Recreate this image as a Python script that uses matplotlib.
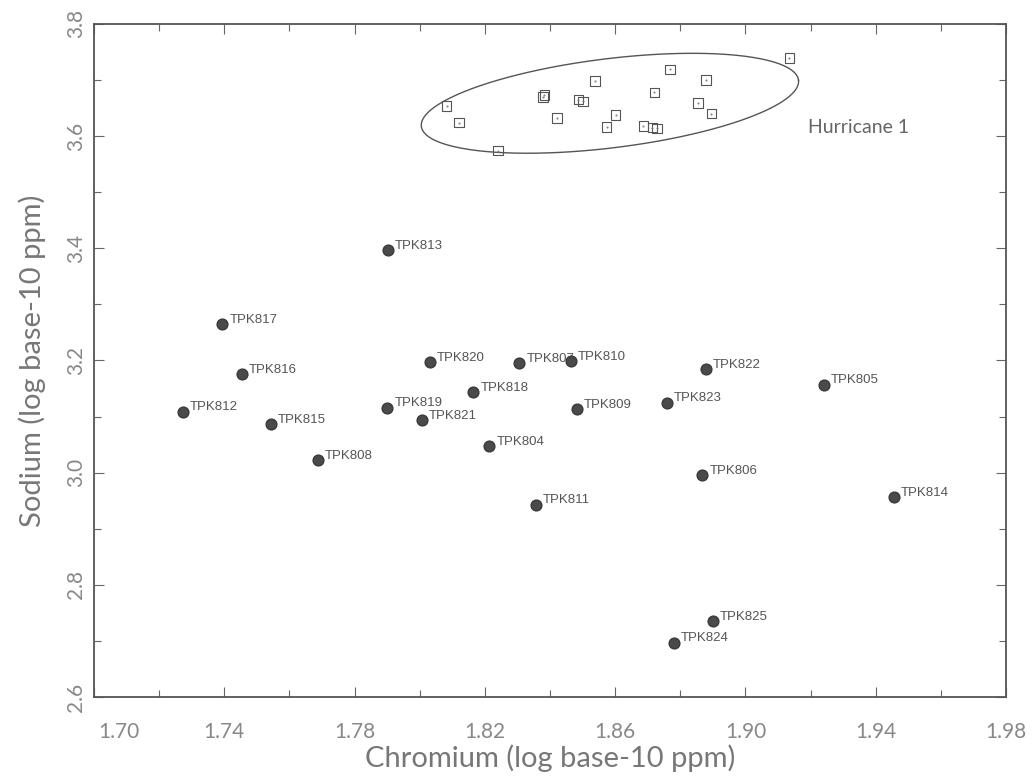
import numpy as np
import matplotlib
matplotlib.use("Agg")
import matplotlib.pyplot as plt
from matplotlib.ticker import FixedLocator
from matplotlib.transforms import ScaledTranslation

# Hurricane 1 group (open squares)
hur_cr = [1.8083, 1.8121, 1.8241, 1.8378, 1.8383, 1.8421, 1.8487, 1.8502, 1.8538, 1.8574,
          1.8602, 1.8687, 1.8714, 1.8728, 1.8720, 1.8768, 1.8854, 1.8879, 1.8895, 1.9135]
hur_na = [3.654, 3.624, 3.574, 3.670, 3.673, 3.632, 3.665, 3.662, 3.698, 3.616,
          3.638, 3.618, 3.615, 3.614, 3.678, 3.719, 3.659, 3.700, 3.640, 3.739]

# TPK samples (filled circles)
tpk_names = ["TPK817", "TPK816", "TPK812", "TPK815", "TPK808", "TPK819", "TPK821", "TPK820",
             "TPK818", "TPK804", "TPK807", "TPK810", "TPK822", "TPK805", "TPK809", "TPK823",
             "TPK806", "TPK814", "TPK811", "TPK813", "TPK825", "TPK824"]
tpk_cr = [1.7394, 1.7455, 1.7274, 1.7543, 1.7687, 1.7901, 1.8006, 1.8032,
          1.8165, 1.8214, 1.8306, 1.8465, 1.8878, 1.9242, 1.8482, 1.8758,
          1.8868, 1.9456, 1.8357, 1.7903, 1.8901, 1.8781]
tpk_na = [3.265, 3.176, 3.109, 3.087, 3.023, 3.116, 3.094, 3.197,
          3.144, 3.048, 3.195, 3.199, 3.185, 3.157, 3.114, 3.125,
          2.996, 2.957, 2.943, 3.397, 2.736, 2.697]

x_major = [1.70, 1.74, 1.78, 1.82, 1.86, 1.90, 1.94, 1.98]
x_minor = [1.72, 1.76, 1.80, 1.84, 1.88, 1.92, 1.96]
y_major = [2.6, 2.8, 3.0, 3.2, 3.4, 3.6, 3.8]
y_minor = [2.7, 2.9, 3.1, 3.3, 3.5, 3.7]

# ellipse around Hurricane 1 (center in data units, axes in pixels, tilt in degrees)
ell_center = (1.8584, 3.6586)
ell_a_px, ell_b_px, ell_tilt = 190, 44.6, 7.0

fig = plt.figure(figsize=(10.34, 7.81), dpi=100)
ax = fig.add_axes([0.0909, 0.1076, 0.8820, 0.8617])
ax.set_xlim(1.70, 1.98)
ax.set_ylim(2.6, 3.8)

# draw ellipse in pixel-equivalent space so the tilt looks right
px_per_x = 0.8820 * 1034 / 0.28
px_per_y = 0.8617 * 781 / 1.2
t = np.linspace(0, 2 * np.pi, 400)
th = np.radians(ell_tilt)
dx = ell_a_px * np.cos(t) * np.cos(th) - ell_b_px * np.sin(t) * np.sin(th)
dy = ell_a_px * np.cos(t) * np.sin(th) + ell_b_px * np.sin(t) * np.cos(th)
ax.plot(ell_center[0] + dx / px_per_x, ell_center[1] + dy / px_per_y, color='#555555', lw=1.0)
ax.text(1.9192, 3.6146, "Hurricane 1", fontsize=14, color='#666666', va='center', family='Lato')

ax.scatter(hur_cr, hur_na, marker='s', s=46, facecolors='none', edgecolors='#555555', linewidths=0.8, zorder=3)
ax.scatter(hur_cr, hur_na, marker='.', s=1, color='#777777', zorder=3)

ax.scatter(tpk_cr, tpk_na, marker='o', s=60, color='#4a4a4a', edgecolors='#3a3a3a', zorder=4)
for name, x, y in zip(tpk_names, tpk_cr, tpk_na):
    ax.annotate(name, (x, y), xytext=(5, 3), textcoords='offset points', fontsize=9.5,
                color='#555555', va='center', ha='left', family='Liberation Sans')

ax.xaxis.set_major_locator(FixedLocator(x_major))
ax.xaxis.set_minor_locator(FixedLocator(x_minor))
ax.yaxis.set_major_locator(FixedLocator(y_major))
ax.yaxis.set_minor_locator(FixedLocator(y_minor))
ax.xaxis.set_major_formatter(plt.FormatStrFormatter('%.2f'))
ax.yaxis.set_major_formatter(plt.FormatStrFormatter('%.1f'))
ax.tick_params(which='both', direction='in', top=True, right=True, color='#666666', width=0.8)
ax.tick_params(which='major', length=7)
ax.tick_params(which='minor', length=5)
ax.tick_params(axis='x', labelsize=15, labelcolor='#888888', pad=18)
ax.tick_params(axis='y', labelsize=15, labelcolor='#888888', pad=6)
for lab in ax.get_xticklabels() + ax.get_yticklabels():
    lab.set_family('Lato')
for lab in ax.get_yticklabels():
    lab.set_rotation(90)
    lab.set_va('center')
# first x label sits right of the corner, as in the source figure
first = ax.get_xticklabels()[0]
first.set_transform(first.get_transform() + ScaledTranslation(0.25, 0, fig.dpi_scale_trans))

for sp in ax.spines.values():
    sp.set_color('#555555')
    sp.set_linewidth(1.3)

ax.set_xlabel("Chromium (log base-10 ppm)", fontsize=21, color='#777777', family='Lato', labelpad=2)
ax.set_ylabel("Sodium (log base-10 ppm)", fontsize=21, color='#777777', family='Lato', labelpad=14)

fig.savefig("out.png", dpi=100)
